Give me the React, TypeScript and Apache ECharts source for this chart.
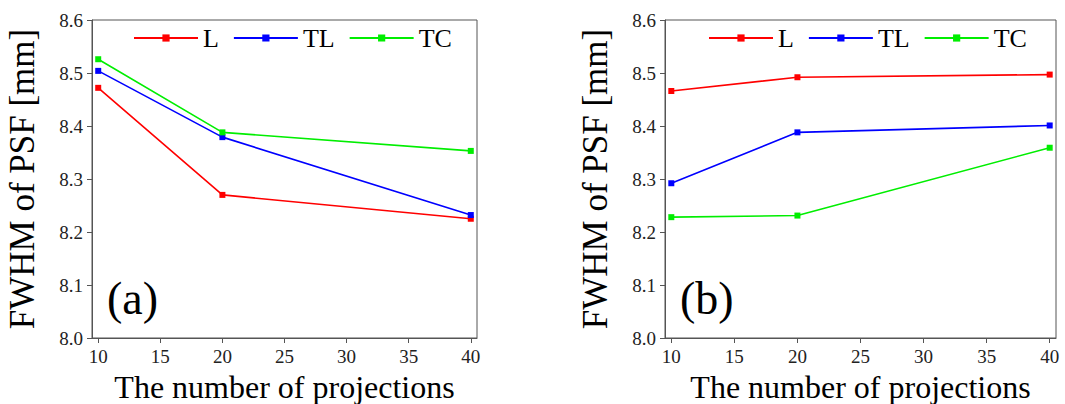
import React, { useEffect, useRef } from "react";
import * as echarts from "echarts";

const projections = [10, 20, 40];
const xTicks = [10, 15, 20, 25, 30, 35, 40];
const seriesNames = ["L", "TL", "TC"];
const colors = ["#ff0000", "#0000ff", "#00ee00"];

// Panel (a)
const aL = [8.472, 8.27, 8.225];
const aTL = [8.504, 8.379, 8.232];
const aTC = [8.526, 8.388, 8.353];
// Panel (b)
const bL = [8.466, 8.492, 8.497];
const bTL = [8.292, 8.388, 8.401];
const bTC = [8.228, 8.231, 8.359];

const FONT = "Liberation Serif";

export default function App() {
  const ref = useRef<HTMLDivElement>(null);
  useEffect(() => {
    if (!ref.current) return;
    const chart = echarts.init(ref.current, null, { renderer: "svg" });
    const grids = [
      { left: 92, top: 20, width: 385, height: 318 },
      { left: 665, top: 20, width: 391, height: 318 },
    ];
    const xAxis = grids.map((_, i) => ({
      type: "value",
      gridIndex: i,
      min: 9.5,
      max: 40.5,
      name: "The number of projections",
      nameLocation: "middle",
      nameGap: 33,
      nameTextStyle: { fontFamily: FONT, fontSize: 32, color: "#000" },
      axisLine: { show: true, lineStyle: { color: "#555", width: 1 } },
      axisTick: { show: true, length: 5, customValues: xTicks, lineStyle: { color: "#555" } },
      axisLabel: {
        customValues: xTicks,
        margin: 9,
        fontFamily: FONT,
        fontSize: 19,
        color: "#222",
      },
      splitLine: { show: false },
    }));
    const yAxis = grids.map((_, i) => ({
      type: "value",
      gridIndex: i,
      min: 8.0,
      max: 8.6,
      interval: 0.1,
      name: "FWHM of PSF [mm]",
      nameLocation: "middle",
      nameGap: 52,
      nameTextStyle: { fontFamily: FONT, fontSize: 35, color: "#000" },
      axisLine: { show: true, lineStyle: { color: "#555", width: 1 } },
      axisTick: { show: true, length: 5, lineStyle: { color: "#555" } },
      axisLabel: {
        margin: 9,
        fontFamily: FONT,
        fontSize: 19,
        color: "#222",
        formatter: (v: number) => v.toFixed(1),
      },
      splitLine: { show: false },
    }));
    const panelData = [
      [aL, aTL, aTC],
      [bL, bTL, bTC],
    ];
    const series: any[] = [];
    panelData.forEach((panel, p) => {
      panel.forEach((vals, k) => {
        series.push({
          type: "line",
          name: seriesNames[k],
          xAxisIndex: p,
          yAxisIndex: p,
          data: projections.map((x, j) => [x, vals[j]]),
          symbol: "rect",
          symbolSize: 6,
          showSymbol: true,
          lineStyle: { color: colors[k], width: 1.6 },
          itemStyle: { color: colors[k] },
        });
      });
    });
    const legendBase = {
      data: seriesNames,
      itemWidth: 64,
      itemHeight: 9,
      itemGap: 14,
      padding: 0,
      textStyle: { fontFamily: FONT, fontSize: 26, color: "#000" },
      selectedMode: false,
    };
    chart.setOption({
      animation: false,
      backgroundColor: "#fff",
      textStyle: { fontFamily: FONT },
      grid: grids.map((g) => ({
        ...g,
        show: true,
        borderColor: "#555",
        borderWidth: 1,
        containLabel: false,
        outerBoundsMode: "none",
      })),
      xAxis,
      yAxis,
      legend: [
        { ...legendBase, left: 133, top: 25 },
        { ...legendBase, left: 708, top: 25 },
      ],
      graphic: [
        { type: "text", left: 107, top: 275, style: { text: "(a)", font: `46px "${FONT}"`, fill: "#000" } },
        { type: "text", left: 680, top: 275, style: { text: "(b)", font: `46px "${FONT}"`, fill: "#000" } },
      ],
      series,
    });
    return () => chart.dispose();
  }, []);
  return (
    <div
      ref={ref}
      style={{ position: "fixed", left: 0, top: 0, width: 1065, height: 404 }}
    />
  );
}
